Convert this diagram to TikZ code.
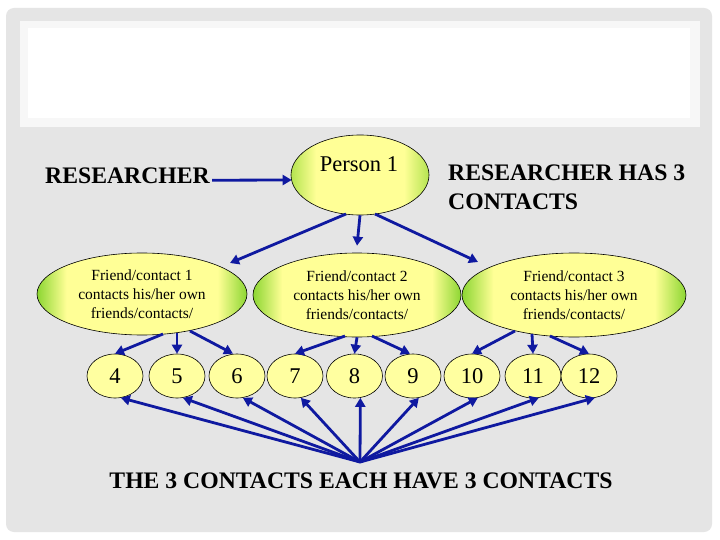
\documentclass[tikz,border=0pt]{standalone}
\usepackage{fontspec}
\setmainfont{Liberation Serif}[BoldFont={Liberation Serif Bold}]
\usetikzlibrary{arrows.meta,calc,shapes.geometric}
\definecolor{fgreen}{RGB}{140,214,50}
\definecolor{fyellow}{RGB}{255,255,150}
\definecolor{pgreen}{RGB}{180,228,80}
\definecolor{arrblue}{RGB}{15,25,160}
\definecolor{panel}{RGB}{229,229,229}
\definecolor{numfill}{RGB}{255,255,160}
\definecolor{offwhite}{RGB}{247,247,247}
\pgfdeclarehorizontalshading{friendshade}{100bp}{color(0bp)=(fgreen); color(25bp)=(fgreen); color(32bp)=(fyellow); color(68bp)=(fyellow); color(75bp)=(fgreen); color(100bp)=(fgreen)}
\pgfdeclarehorizontalshading{personshade}{100bp}{color(0bp)=(pgreen); color(25bp)=(pgreen); color(34bp)=(fyellow); color(66bp)=(fyellow); color(75bp)=(pgreen); color(100bp)=(pgreen)}
\begin{document}
\begin{tikzpicture}[x=1pt,y=-1pt,
  arr/.style={draw=arrblue, line width=2.8pt, -{Triangle[length=9pt,width=10pt]}},
  friend/.style={ellipse, draw=black, line width=0.6pt, shade, shading=friendshade, inner sep=0pt, align=center, font=\fontsize{15.5}{19}\selectfont},
  person/.style={ellipse, draw=black, line width=0.6pt, shade, shading=personshade, inner sep=0pt, minimum width=138pt, minimum height=80pt},
  num/.style={ellipse, draw=black, line width=0.6pt, fill=numfill, inner sep=0pt, minimum width=56pt, minimum height=44pt, font=\fontsize{22.5}{26}\selectfont},
  big/.style={font=\bfseries\fontsize{23.7}{29}\selectfont, inner sep=0pt, align=left}]
\useasboundingbox (0,0) rectangle (720,540);
\fill[white] (0,0) rectangle (720,540);
\fill[panel, rounded corners=8pt] (6,8) rectangle (712,532);
\fill[offwhite] (20,21) rectangle (700,127);
\fill[white] (28,28) rectangle (690,118);

% top row
\node[person] (P) at (360,175) {};
\node[font=\fontsize{22.5}{27}\selectfont, inner sep=0pt] (Pl) at (359,164) {Person 1};
\node[big, anchor=west] (R) at (45,175.5) {RESEARCHER};
\node[big, anchor=west] (RH) at (448,187.5) {RESEARCHER HAS 3\\CONTACTS};

% friends
\node[friend, minimum width=210pt, minimum height=82pt] (F1) at (142,294) {Friend/contact 1\\contacts his/her own\\friends/contacts/};
\node[friend, minimum width=208pt, minimum height=84pt] (F2) at (357,295) {Friend/contact 2\\contacts his/her own\\friends/contacts/};
\node[friend, minimum width=224pt, minimum height=84pt] (F3) at (574,295) {Friend/contact 3\\contacts his/her own\\friends/contacts/};

% numbers
\node[num] (n4) at (115,376) {4};
\node[num] (n5) at (177,376) {5};
\node[num] (n6) at (237,376) {6};
\node[num] (n7) at (295,376) {7};
\node[num] (n8) at (354.5,376) {8};
\node[num] (n9) at (413,376) {9};
\node[num] (n10) at (472,376) {10};
\node[num] (n11) at (533,376) {11};
\node[num] (n12) at (589,376) {12};

\node[big, anchor=center] (T) at (361,480.5) {THE 3 CONTACTS EACH HAVE 3 CONTACTS};
\coordinate (hub) at (360,462);

% researcher -> person
\draw[arr] ($(R.base east)+(2,-3)$) -- ($(P.west)+(1,5)$);

% person -> friends
\draw[arr] ($(P.center)+(-14,39)$) -- ($(F1.center)+(88,-31)$);
\draw[arr] (P.south) -- ($(F2.north)+(0,-7)$);
\draw[arr] ($(P.center)+(15,39)$) -- ($(F3.center)+(-96,-33)$);

% friends -> numbers
\draw[arr] ($(F1.center)+(21,40)$) -- (n4.north);
\draw[arr] ($(F1.center)+(35,39)$) -- (n5.north);
\draw[arr] ($(F1.center)+(48,37)$) -- ($(n6.north)+(-4,0)$);
\draw[arr] ($(F2.center)+(-12,41)$) -- (n7.north);
\draw[arr] (F2.south) -- (n8.north);
\draw[arr] ($(F2.center)+(15,41)$) -- ($(n9.north)+(-3,0)$);
\draw[arr] ($(F3.center)+(-59,36)$) -- (n10.north);
\draw[arr] ($(F3.center)+(-42,39)$) -- (n11.north);
\draw[arr] ($(F3.center)+(-24,41)$) -- (n12.north);

% hub -> numbers
\foreach \n in {n4,n5,n6,n7,n8,n9,n10,n11,n12}
  \draw[arr] (hub) -- (\n.-75);
\end{tikzpicture}
\end{document}
